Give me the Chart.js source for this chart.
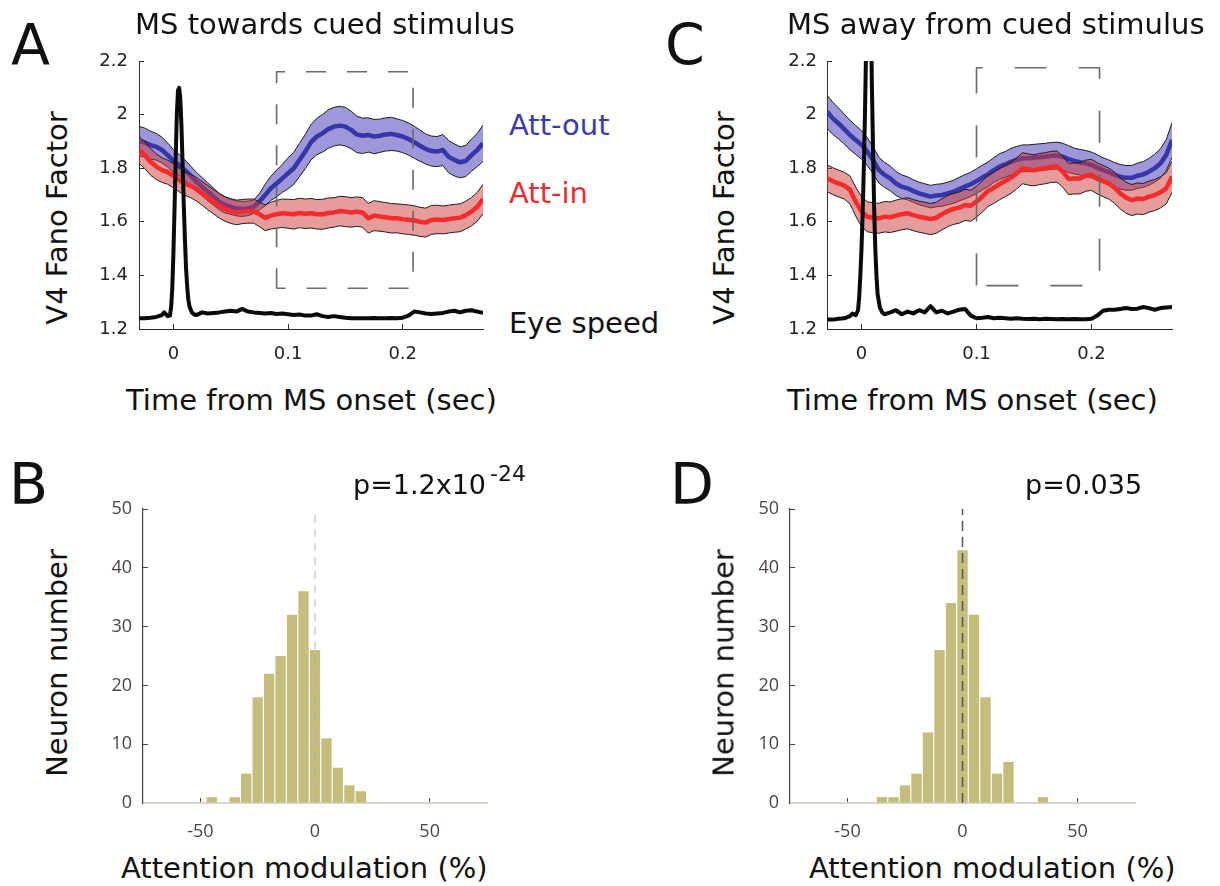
<!DOCTYPE html>
<html>
<head>
<meta charset="utf-8">
<script src="https://cdn.jsdelivr.net/npm/chart.js@4.4.1/dist/chart.umd.min.js"></script>
<style>
  body { margin: 0; background: #fff; width: 1220px; height: 886px; position: relative; overflow: hidden; font-family: "DejaVu Sans", sans-serif; }
  .box { position: absolute; }
  .txt { position: absolute; line-height: 1; white-space: nowrap; color: #111; }
  .big { font-size: 57px; }
  .lab { font-size: 29px; }
  .rot { position: absolute; line-height: 1; white-space: nowrap; color: #111; font-size: 29px; transform: translate(-50%, -50%) rotate(-90deg); }
</style>
</head>
<body>

<div class="box" style="left:79px;top:31px;width:416px;height:343px"><canvas id="chart-a"></canvas></div>
<div class="box" style="left:767px;top:31px;width:417px;height:343px"><canvas id="chart-c"></canvas></div>
<div class="box" style="left:83px;top:479px;width:416px;height:369px"><canvas id="chart-b"></canvas></div>
<div class="box" style="left:730px;top:479px;width:417px;height:369px"><canvas id="chart-d"></canvas></div>

<div class="txt big" style="left:11px;top:17px">A</div>
<div class="txt big" style="left:665px;top:17px">C</div>
<div class="txt big" style="left:9px;top:456px">B</div>
<div class="txt big" style="left:670px;top:456px">D</div>

<div class="txt lab" style="left:135px;top:10px">MS towards cued stimulus</div>
<div class="txt lab" style="left:787px;top:10px">MS away from cued stimulus</div>

<div class="txt lab" style="left:509px;top:111px;color:#3a3aaa">Att-out</div>
<div class="txt lab" style="left:509px;top:179px;color:#f02a2a">Att-in</div>
<div class="txt lab" style="left:509px;top:309px">Eye speed</div>

<div class="txt lab" style="left:126px;top:386px">Time from MS onset (sec)</div>
<div class="txt lab" style="left:787px;top:386px">Time from MS onset (sec)</div>
<div class="txt lab" style="left:121px;top:854px">Attention modulation (%)</div>
<div class="txt lab" style="left:809px;top:854px">Attention modulation (%)</div>

<div class="rot" style="left:57px;top:218px">V4 Fano Factor</div>
<div class="rot" style="left:724px;top:218px">V4 Fano Factor</div>
<div class="rot" style="left:57px;top:663px">Neuron number</div>
<div class="rot" style="left:724px;top:663px">Neuron number</div>

<div class="txt" style="left:353px;top:471px;font-size:27px">p=1.2x10</div>
<div class="txt" style="left:490px;top:463px;font-size:22px">-24</div>
<div class="txt" style="left:1025px;top:471px;font-size:27px">p=0.035</div>

<script>
// time axis (sec) for the Fano factor traces
const msTime = [-0.03, -0.025, -0.02, -0.015, -0.01, -0.005, 0, 0.005, 0.01, 0.015,
  0.02, 0.025, 0.03, 0.035, 0.04, 0.045, 0.05, 0.055, 0.06, 0.065,
  0.07, 0.075, 0.08, 0.085, 0.09, 0.095, 0.1, 0.105, 0.11, 0.115,
  0.12, 0.125, 0.13, 0.135, 0.14, 0.145, 0.15, 0.155, 0.16, 0.165,
  0.17, 0.175, 0.18, 0.185, 0.19, 0.195, 0.2, 0.205, 0.21, 0.215,
  0.22, 0.225, 0.23, 0.235, 0.24, 0.245, 0.25, 0.255, 0.26, 0.265,
  0.27];
const fanoTicksX = [0, 0.1, 0.2];
const fanoTicksY = [1.2, 1.4, 1.6, 1.8, 2, 2.2];

// panel A: MS towards cued stimulus
const attOutA = [1.901, 1.896, 1.886, 1.880, 1.868, 1.849, 1.827, 1.812, 1.793, 1.772,
  1.750, 1.731, 1.712, 1.694, 1.675, 1.663, 1.656, 1.650, 1.648, 1.650,
  1.656, 1.675, 1.700, 1.725, 1.743, 1.762, 1.781, 1.800, 1.831, 1.862,
  1.897, 1.918, 1.930, 1.946, 1.955, 1.959, 1.955, 1.943, 1.926, 1.921,
  1.924, 1.918, 1.921, 1.926, 1.928, 1.924, 1.918, 1.909, 1.897, 1.884,
  1.872, 1.864, 1.862, 1.868, 1.843, 1.831, 1.822, 1.827, 1.849, 1.868,
  1.893];
const attOutErrA = [0.055, 0.054, 0.052, 0.05, 0.048, 0.045, 0.042, 0.04, 0.038, 0.036,
  0.035, 0.034, 0.033, 0.032, 0.03, 0.03, 0.028, 0.028, 0.028, 0.027,
  0.025, 0.03, 0.04, 0.045, 0.05, 0.052, 0.058, 0.06, 0.062, 0.064,
  0.066, 0.068, 0.07, 0.072, 0.072, 0.072, 0.072, 0.07, 0.068, 0.066,
  0.064, 0.064, 0.062, 0.062, 0.062, 0.06, 0.06, 0.06, 0.06, 0.058,
  0.056, 0.056, 0.056, 0.058, 0.06, 0.06, 0.058, 0.058, 0.06, 0.062,
  0.068];
const attInA = [1.868, 1.849, 1.824, 1.806, 1.793, 1.785, 1.772, 1.756, 1.743, 1.734,
  1.722, 1.706, 1.690, 1.675, 1.660, 1.648, 1.640, 1.635, 1.638, 1.640,
  1.640, 1.628, 1.615, 1.623, 1.628, 1.632, 1.630, 1.628, 1.633, 1.630,
  1.632, 1.628, 1.628, 1.633, 1.635, 1.640, 1.638, 1.635, 1.638, 1.635,
  1.613, 1.623, 1.620, 1.617, 1.613, 1.613, 1.610, 1.608, 1.605, 1.600,
  1.597, 1.607, 1.609, 1.607, 1.610, 1.613, 1.615, 1.625, 1.638, 1.656,
  1.685];
const attInErrA = [0.05, 0.05, 0.05, 0.048, 0.046, 0.045, 0.045, 0.044, 0.044, 0.044,
  0.044, 0.044, 0.045, 0.045, 0.046, 0.046, 0.046, 0.046, 0.045, 0.045,
  0.045, 0.046, 0.048, 0.05, 0.052, 0.053, 0.054, 0.055, 0.055, 0.055,
  0.055, 0.055, 0.056, 0.056, 0.055, 0.055, 0.056, 0.055, 0.055, 0.055,
  0.055, 0.056, 0.055, 0.055, 0.055, 0.054, 0.055, 0.055, 0.055, 0.054,
  0.054, 0.054, 0.053, 0.052, 0.052, 0.052, 0.052, 0.052, 0.053, 0.054,
  0.055];

// panel C: MS away from cued stimulus
const attOutC = [2.011, 1.986, 1.967, 1.946, 1.924, 1.905, 1.887, 1.862, 1.831, 1.793,
  1.775, 1.762, 1.743, 1.731, 1.725, 1.715, 1.706, 1.700, 1.694, 1.698,
  1.700, 1.706, 1.712, 1.722, 1.731, 1.740, 1.752, 1.765, 1.777, 1.793,
  1.806, 1.814, 1.824, 1.831, 1.837, 1.837, 1.839, 1.841, 1.843, 1.846,
  1.847, 1.843, 1.834, 1.827, 1.822, 1.818, 1.812, 1.802, 1.793, 1.785,
  1.775, 1.768, 1.764, 1.764, 1.772, 1.777, 1.787, 1.800, 1.818, 1.849,
  1.905];
const attOutErrC = [0.062, 0.06, 0.058, 0.056, 0.055, 0.054, 0.053, 0.052, 0.05, 0.048,
  0.047, 0.046, 0.045, 0.044, 0.043, 0.042, 0.042, 0.042, 0.042, 0.042,
  0.042, 0.042, 0.043, 0.044, 0.045, 0.045, 0.046, 0.046, 0.046, 0.046,
  0.048, 0.048, 0.05, 0.05, 0.05, 0.05, 0.05, 0.05, 0.05, 0.05,
  0.05, 0.05, 0.05, 0.048, 0.048, 0.048, 0.048, 0.048, 0.046, 0.046,
  0.046, 0.046, 0.046, 0.046, 0.047, 0.048, 0.05, 0.052, 0.055, 0.058,
  0.065];
const attInC = [1.762, 1.752, 1.743, 1.735, 1.719, 1.675, 1.638, 1.619, 1.615, 1.613,
  1.619, 1.617, 1.623, 1.628, 1.632, 1.625, 1.619, 1.615, 1.610, 1.615,
  1.628, 1.640, 1.648, 1.653, 1.663, 1.660, 1.675, 1.694, 1.715, 1.727,
  1.740, 1.752, 1.764, 1.781, 1.800, 1.795, 1.792, 1.797, 1.800, 1.805,
  1.806, 1.787, 1.760, 1.762, 1.762, 1.772, 1.775, 1.762, 1.752, 1.743,
  1.727, 1.706, 1.690, 1.681, 1.687, 1.685, 1.694, 1.700, 1.710, 1.725,
  1.768];
const attInErrC = [0.05, 0.05, 0.05, 0.05, 0.052, 0.054, 0.056, 0.056, 0.056, 0.056,
  0.057, 0.057, 0.058, 0.058, 0.058, 0.058, 0.058, 0.058, 0.058, 0.058,
  0.058, 0.058, 0.058, 0.058, 0.058, 0.058, 0.058, 0.058, 0.058, 0.058,
  0.058, 0.058, 0.058, 0.058, 0.058, 0.058, 0.058, 0.058, 0.058, 0.058,
  0.058, 0.058, 0.058, 0.058, 0.058, 0.058, 0.058, 0.058, 0.058, 0.058,
  0.058, 0.058, 0.058, 0.058, 0.058, 0.058, 0.058, 0.058, 0.058, 0.058,
  0.058];

// eye speed trace (drawn in Fano factor units), finer sampling around the spike
const eyeTime = [-0.03, -0.025, -0.02, -0.015, -0.01, -0.008, -0.005, -0.003, -0.002, -0.001,
  0, 0.001, 0.002, 0.003, 0.004, 0.005, 0.006, 0.007, 0.008, 0.009,
  0.01, 0.011, 0.012, 0.013, 0.014, 0.016, 0.018, 0.02,
  0.025, 0.03, 0.035, 0.04, 0.045, 0.05, 0.055, 0.06, 0.065, 0.07,
  0.075, 0.08, 0.085, 0.09, 0.095, 0.1, 0.105, 0.11, 0.115, 0.12,
  0.125, 0.13, 0.135, 0.14, 0.145, 0.15, 0.155, 0.16, 0.165, 0.17,
  0.175, 0.18, 0.185, 0.19, 0.195, 0.2, 0.205, 0.21, 0.215, 0.22,
  0.225, 0.23, 0.235, 0.24, 0.245, 0.25, 0.255, 0.26, 0.265, 0.27];
const eyeSpeedA = [1.24, 1.24, 1.242, 1.245, 1.252, 1.262, 1.248, 1.25, 1.28, 1.35,
  1.48, 1.65, 1.84, 2.0, 2.09, 2.1, 2.06, 1.96, 1.82, 1.67,
  1.54, 1.43, 1.36, 1.31, 1.285, 1.262, 1.255, 1.252,
  1.262, 1.258, 1.26, 1.262, 1.265, 1.268, 1.265, 1.275, 1.265, 1.262,
  1.26, 1.258, 1.26, 1.256, 1.258, 1.255, 1.252, 1.254, 1.25, 1.25,
  1.255, 1.248, 1.245, 1.248, 1.245, 1.242, 1.24, 1.24, 1.24, 1.24,
  1.241, 1.24, 1.24, 1.241, 1.24, 1.242, 1.25, 1.265, 1.262, 1.258,
  1.256, 1.258, 1.26, 1.265, 1.268, 1.262, 1.268, 1.27, 1.265, 1.26];
const eyeSpeedC = [1.235, 1.235, 1.238, 1.24, 1.248, 1.258, 1.252, 1.27, 1.32, 1.40,
  1.5, 1.63, 1.8, 2.0, 2.25, 2.5, 2.7, 2.72, 2.45, 2.12,
  1.88, 1.65, 1.5, 1.4, 1.33, 1.28, 1.262, 1.255,
  1.262, 1.27, 1.255, 1.265, 1.258, 1.27, 1.262, 1.285, 1.262, 1.268,
  1.258, 1.265, 1.272, 1.275, 1.25, 1.24, 1.242, 1.245, 1.24, 1.242,
  1.24, 1.238, 1.24, 1.238, 1.237, 1.238, 1.236, 1.238, 1.237, 1.236,
  1.237, 1.236, 1.237, 1.236, 1.236, 1.238, 1.25, 1.268, 1.272, 1.272,
  1.275, 1.278, 1.275, 1.276, 1.282, 1.278, 1.272, 1.278, 1.28, 1.282];

// analysis windows (dashed boxes): [t start, t end], [FF low, FF high]
const windowTimeA = [0.09, 0.209];
const windowFFA = [1.352, 2.16];
const windowTimeC = [0.1, 0.207];
const windowFFC = [1.362, 2.175];

// histograms of attention modulation (bin centres, %)
const binsB = [-45, -40, -35, -30, -25, -20, -15, -10, -5, 0, 5, 10, 15, 20];
const countsB = [1, 0, 1, 5, 18, 22, 25, 32, 36, 26, 11, 6, 3, 2];
const binsD = [-35, -30, -25, -20, -15, -10, -5, 0, 5, 10, 15, 20, 25, 30, 35];
const countsD = [1, 1, 3, 5, 12, 26, 34, 43, 32, 18, 5, 7, 0, 0, 1];
const histTicksX = [-50, 0, 50];
const histTicksY = [0, 10, 20, 30, 40, 50];

const FONT = 'DejaVu Sans';

function pts(xs, ys) {
  return xs.map((x, i) => ({x: x, y: ys[i]}));
}

function fixedTicks(values) {
  return function (scale) {
    scale.ticks = values.map(v => ({value: v}));
  };
}

function bandSets(xs, mean, err, fillColor, lineColor, order) {
  const upper = mean.map((m, i) => m + err[i]);
  const lower = mean.map((m, i) => m - err[i]);
  return [
    {data: pts(xs, upper), borderColor: '#1c1c1c', borderWidth: 1, fill: false, order: order + 1},
    {data: pts(xs, lower), borderColor: '#1c1c1c', borderWidth: 1, fill: '-1', backgroundColor: fillColor, order: order + 1},
    {data: pts(xs, mean), borderColor: lineColor, borderWidth: 4.5, fill: false, order: order}
  ];
}

function boxPoints(ts, vs) {
  return [
    {x: ts[0], y: vs[0]}, {x: ts[0], y: vs[1]}, {x: ts[1], y: vs[1]},
    {x: ts[1], y: vs[0]}, {x: ts[0], y: vs[0]}
  ];
}

function fanoChart(id, eye, outMean, outErr, inMean, inErr, winT, winV, dash, yPad) {
  const datasets = [
    {data: pts(eyeTime, eye), borderColor: '#0a0a0a', borderWidth: 4, fill: false, order: 0},
    {data: boxPoints(winT, winV), borderColor: '#6a6a6a', borderWidth: 1.6, borderDash: dash, fill: false, order: 1},
    ...bandSets(msTime, inMean, inErr, 'rgba(208, 58, 58, 0.5)', '#f52a2a', 2),
    ...bandSets(msTime, outMean, outErr, 'rgba(62, 48, 182, 0.5)', '#3636a6', 4)
  ];
  return new Chart(document.getElementById(id), {
    type: 'line',
    data: {datasets: datasets},
    options: {
      responsive: true,
      maintainAspectRatio: false,
      animation: false,
      events: [],
      layout: {autoPadding: false, padding: {left: 0, top: 30, right: 12, bottom: 0}},
      elements: {
        point: {radius: 0},
        line: {tension: 0, borderJoinStyle: 'round'}
      },
      plugins: {legend: {display: false}, tooltip: {enabled: false}},
      scales: {
        x: {
          type: 'linear',
          min: -0.03,
          max: 0.27,
          afterBuildTicks: fixedTicks(fanoTicksX),
          afterFit: function (s) { s.height = 45; },
          border: {color: '#2a2a2a', width: 1},
          grid: {drawOnChartArea: false, tickLength: -5, tickColor: '#2a2a2a'},
          ticks: {
            padding: 20,
            color: '#222',
            font: {family: FONT, size: 18},
            callback: function (v) { return String(+v.toFixed(2)); }
          }
        },
        y: {
          min: 1.2,
          max: 2.2,
          afterBuildTicks: fixedTicks(fanoTicksY),
          afterFit: function (s) { s.width = 60; },
          border: {color: '#2a2a2a', width: 1},
          grid: {drawOnChartArea: false, tickLength: -5, tickColor: '#2a2a2a'},
          ticks: {
            padding: yPad,
            color: '#222',
            font: {family: FONT, size: 18},
            callback: function (v) { return String(+v.toFixed(2)); }
          }
        }
      }
    }
  });
}

function histChart(id, bins, counts, zeroColor, zeroDash) {
  return new Chart(document.getElementById(id), {
    type: 'bar',
    data: {
      datasets: [
        {type: 'line', data: [{x: 0, y: 0}, {x: 0, y: 50}], borderColor: zeroColor, borderWidth: 1.5, borderDash: zeroDash, pointRadius: 0, fill: false, order: 0},
        {type: 'bar', data: pts(bins, counts), backgroundColor: '#c4bd7b', borderWidth: 0, barPercentage: 0.9, categoryPercentage: 1, order: 1}
      ]
    },
    options: {
      responsive: true,
      maintainAspectRatio: false,
      animation: false,
      events: [],
      layout: {autoPadding: false, padding: {left: 0, top: 30, right: 12, bottom: 0}},
      plugins: {legend: {display: false}, tooltip: {enabled: false}},
      scales: {
        x: {
          type: 'linear',
          min: -75,
          max: 75,
          offset: false,
          afterBuildTicks: fixedTicks(histTicksX),
          afterFit: function (s) { s.height = 45; },
          border: {color: '#dcd5cc', width: 2},
          grid: {offset: false, drawOnChartArea: false, tickLength: -5, tickColor: '#4a4040'},
          ticks: {
            padding: 23,
            color: '#4d4343',
            font: {family: 'Open Sans', size: 18}
          }
        },
        y: {
          min: 0,
          max: 50,
          afterBuildTicks: fixedTicks(histTicksY),
          afterFit: function (s) { s.width = 60; },
          border: {color: '#4a4040', width: 1.2},
          grid: {drawOnChartArea: false, tickLength: -5, tickColor: '#4a4040'},
          ticks: {
            padding: 16,
            color: '#4d4343',
            font: {family: 'Open Sans', size: 18}
          }
        }
      }
    }
  });
}

fanoChart('chart-a', eyeSpeedA, attOutA, attOutErrA, attInA, attInErrA, windowTimeA, windowFFA, [20, 21], 16);
fanoChart('chart-c', eyeSpeedC, attOutC, attOutErrC, attInC, attInErrC, windowTimeC, windowFFC, [32, 32], 15);
histChart('chart-b', binsB, countsB, 'rgba(170, 170, 170, 0.55)', [8, 6]);
histChart('chart-d', binsD, countsD, '#555', [10, 6]);
</script>
</body>
</html>
